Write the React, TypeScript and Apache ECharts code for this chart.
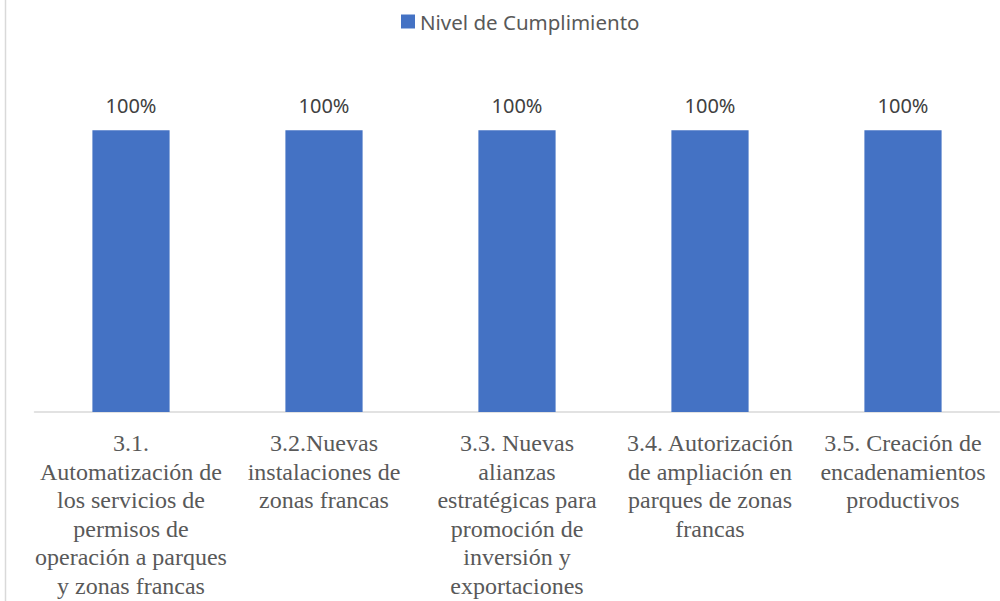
import React, { useEffect, useRef } from "react";
import * as echarts from "echarts";

const categories = [
  "3.1.\nAutomatización de\nlos servicios de\npermisos de\noperación a parques\ny zonas francas",
  "3.2.Nuevas\ninstalaciones de\nzonas francas",
  "3.3. Nuevas\nalianzas\nestratégicas para\npromoción de\ninversión y\nexportaciones",
  "3.4. Autorización\nde ampliación en\nparques de zonas\nfrancas",
  "3.5. Creación de\nencadenamientos\nproductivos",
];
const seriesName = "Nivel de Cumplimiento";
const values = [1, 1, 1, 1, 1];

export default function App() {
  const ref = useRef<HTMLDivElement>(null);
  useEffect(() => {
    if (!ref.current) return;
    const chart = echarts.init(ref.current, null, { renderer: "svg" });
    chart.setOption({
      animation: false,
      backgroundColor: "#ffffff",
      legend: {
        data: [seriesName],
        top: 6,
        left: 396,
        itemWidth: 14,
        itemHeight: 14,
        itemGap: 6,
        icon: "rect",
        textStyle: { fontFamily: "Noto Sans", fontSize: 20.5, color: "#595959" },
      },
      graphic: [
        {
          type: "line",
          shape: { x1: 5.5, y1: 0, x2: 5.5, y2: 601 },
          style: { stroke: "#d9d9d9", lineWidth: 1.5 },
        },
      ],
      grid: { left: 34.5, right: 0.5, top: 74, bottom: 189, containLabel: false },
      xAxis: {
        type: "category",
        data: categories,
        axisLine: { lineStyle: { color: "#d9d9d9", width: 1.5 } },
        axisTick: { show: false },
        axisLabel: {
          interval: 0,
          margin: 17,
          fontFamily: "Liberation Serif",
          fontSize: 24,
          lineHeight: 28.5,
          color: "#595959",
          align: "center",
        },
      },
      yAxis: {
        type: "value",
        min: 0,
        max: 1.2,
        interval: 0.2,
        show: false,
        splitLine: { show: false },
      },
      series: [
        {
          name: seriesName,
          type: "bar",
          data: values,
          barWidth: "40%",
          itemStyle: { color: "#4472c4" },
          label: {
            show: true,
            position: "top",
            distance: 15,
            formatter: (p: any) => `${Math.round(p.value * 100)}%`,
            fontFamily: "Noto Sans",
            fontSize: 20,
            color: "#404040",
          },
        },
      ],
    });
    return () => chart.dispose();
  }, []);
  return (
    <div
      ref={ref}
      style={{ position: "absolute", left: 0, top: 0, width: 1000, height: 601 }}
    />
  );
}
